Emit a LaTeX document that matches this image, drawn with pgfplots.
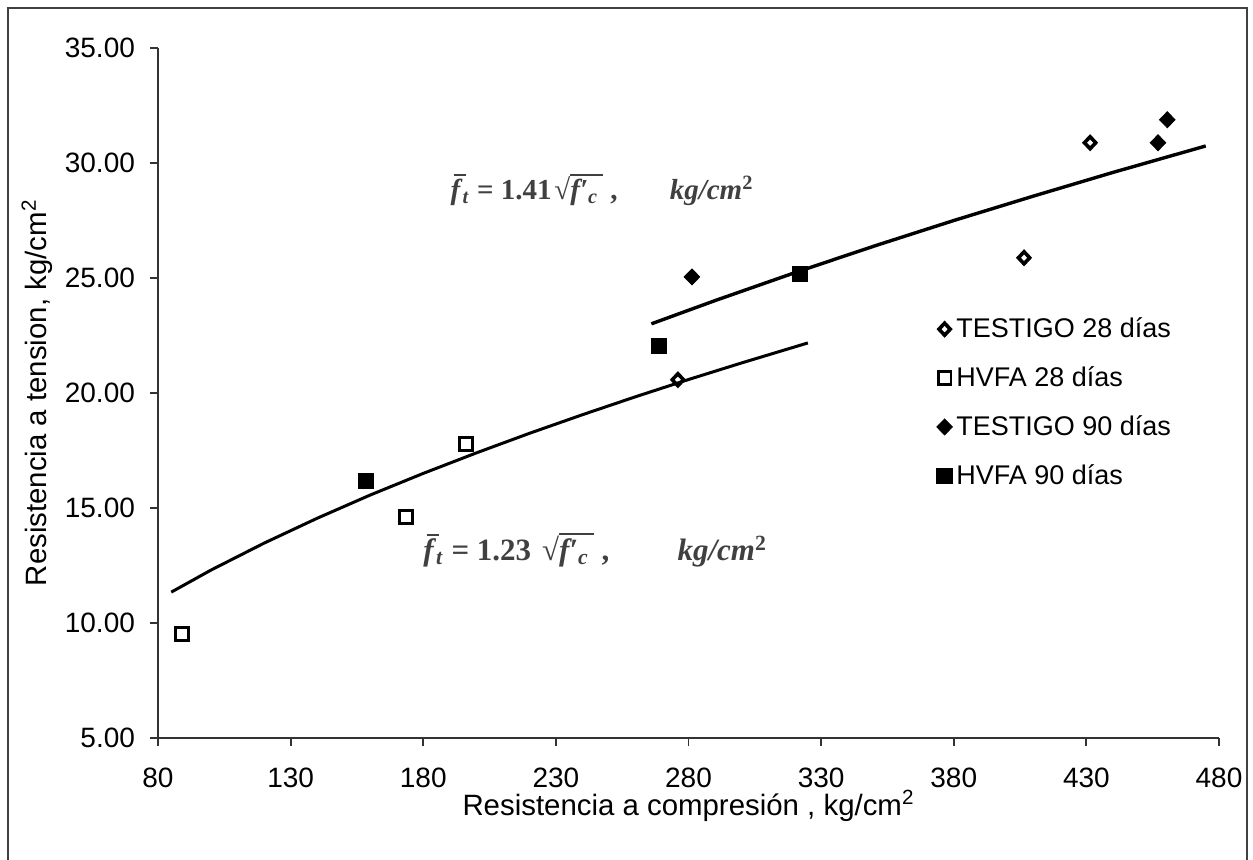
\documentclass[border=0pt]{standalone}
\usepackage{fontspec}
\setmainfont{Liberation Sans}
\newfontfamily\eqfont{Liberation Serif}
\usepackage{pgfplots}
\pgfplotsset{compat=1.18}
\newcommand\ovl[1]{\vbox{\hrule height 0.07em\kern0.12em\hbox{#1}}}
\newcommand\fbar{\rlap{\kern0.12em\raisebox{0.8em}{\rule{0.4em}{0.07em}}}\textit{f}}
\newcommand\eqtext[3]{{\eqfont\bfseries\fbar\textsubscript{\textit{t}} = #1\hspace{#2}√\ovl{\textit{f′}\textsubscript{\textit{c}}\,}\ ,\hspace{#3}\textit{kg/cm}\textsuperscript{2}}}
\begin{document}
\begin{tikzpicture}
\path[use as bounding box] (0pt,0pt) rectangle (626.5pt,-429.5pt);
\draw[line width=1.1pt, black!75] (4pt,-431pt) -- (4pt,-4pt) -- (623.5pt,-4pt) -- (623.5pt,-431pt);
\begin{axis}[
  at={(79pt,-369pt)}, anchor=south west,
  scale only axis, width=530.5pt, height=345.15pt,
  xmin=80, xmax=480, ymin=5, ymax=35,
  xtick={80,130,180,230,280,330,380,430,480}, ytick={5,10,15,20,25,30,35},
  axis x line=bottom, axis y line=left,
  axis line style={line width=0.9pt, black!80},
  x axis line style={-}, y axis line style={-},
  tick style={line width=0.9pt, black!80},
  tick align=outside, major tick length=4pt,
  tick label style={font=\fontsize{14}{16}\selectfont},
  yticklabel={\pgfmathprintnumber[fixed,fixed zerofill,precision=2,assume math mode=true]{\tick}},
  xticklabel={\pgfmathprintnumber[fixed,precision=0,assume math mode=true]{\tick}},
  yticklabel style={xshift=-4pt},
  xticklabel style={yshift=-7.5pt},
  xlabel={Resistencia a compresión , kg/cm\textsuperscript{2}},
  ylabel={Resistencia a tension, kg/cm\textsuperscript{2}},
  label style={font=\fontsize{14.7}{17}\selectfont},
  x label style={at={(axis description cs:0.5,0)}, anchor=center, yshift=-34pt},
  y label style={at={(axis description cs:-0.114,0.5)}, anchor=center},
  legend style={at={(0.728,0.621)}, anchor=north west, draw=none, fill=none,
    font=\fontsize{13.5}{15}\selectfont, row sep=9pt},
  legend cell align=left,
  clip=false,
]
\addplot[only marks, mark=diamond, mark size=3pt, line width=1.8pt, mark options={fill=white, xscale=1.25}] coordinates {(276,20.57) (406.5,25.87) (431.4,30.87)};
\addlegendentry{TESTIGO 28 días}
\addplot[only marks, mark=square, mark size=3.2pt, line width=1.4pt, mark options={fill=white}] coordinates {(89,9.52) (173.5,14.6) (196.1,17.78)};
\addlegendentry{HVFA 28 días}
\addplot[only marks, mark=diamond*, mark size=4pt, black, mark options={xscale=1.3}] coordinates {(281.3,25.04) (457,30.87) (460.5,31.87)};
\addlegendentry{TESTIGO 90 días}
\addplot[only marks, mark=square*, mark size=3.9pt, black] coordinates {(158.4,16.17) (268.9,22.04) (322,25.17)};
\addlegendentry{HVFA 90 días}
\addplot[forget plot, black, line width=1.5pt] coordinates {(85,11.34) (100,12.30) (120,13.47) (140,14.55) (160,15.56) (180,16.50) (200,17.39) (220,18.24) (240,19.05) (260,19.83) (280,20.58) (300,21.30) (325,22.17)};
\addplot[forget plot, black, line width=1.7pt] coordinates {(266,23.00) (290,24.01) (320,25.22) (350,26.38) (380,27.49) (410,28.55) (440,29.58) (475,30.73)};
\node[text=black!75, font=\fontsize{14.5}{16}\selectfont] at (axis cs:247.4,28.83) {\eqtext{1.41}{0.1em}{1.8em}};
\node[text=black!75, font=\fontsize{15.5}{17}\selectfont] at (axis cs:244.8,13.17) {\eqtext{1.23}{0.35em}{2.2em}};
\end{axis}
\end{tikzpicture}
\end{document}
